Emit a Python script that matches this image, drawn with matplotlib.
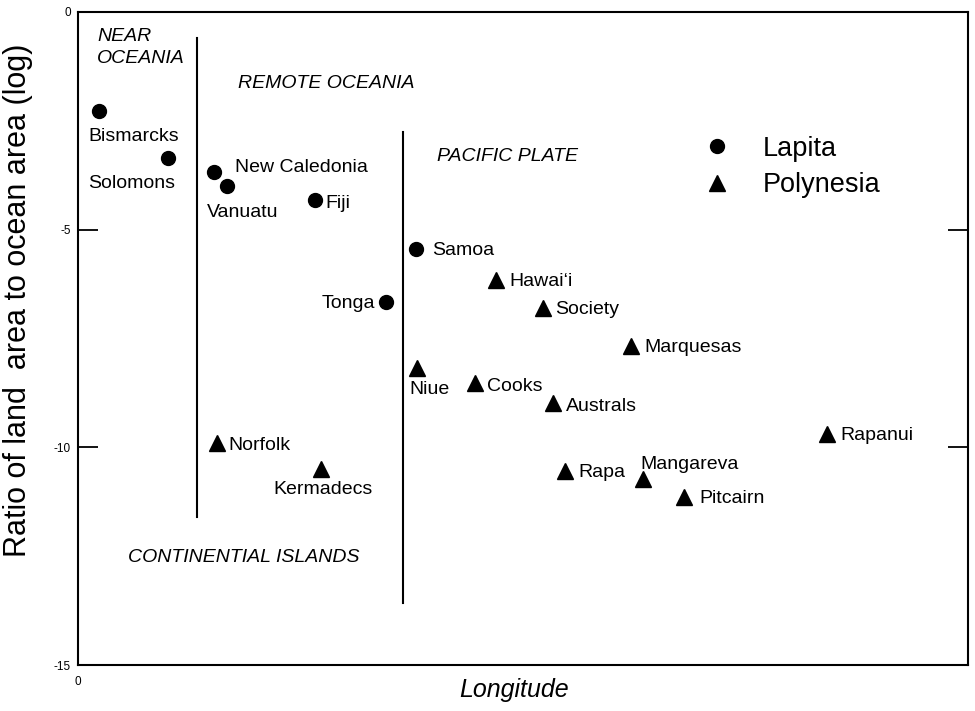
import matplotlib
matplotlib.use("Agg")
import matplotlib.pyplot as plt
from matplotlib.lines import Line2D

plt.rcParams['font.family'] = ['Liberation Sans', 'DejaVu Sans']

# ---- data ----
lapita_names = ["Bismarcks", "Solomons", "New Caledonia", "Vanuatu", "Fiji", "Samoa", "Tonga"]
lapita_x = [2.4, 10.1, 15.3, 16.7, 26.6, 38.0, 34.6]
lapita_y = [-2.27, -3.35, -3.68, -4.00, -4.32, -5.44, -6.66]

poly_names = ["Hawai\u2018i", "Society", "Marquesas", "Niue", "Cooks", "Australs", "Rapanui",
              "Norfolk", "Kermadecs", "Rapa", "Mangareva", "Pitcairn"]
poly_x = [47.0, 52.2, 62.1, 38.1, 44.6, 53.4, 84.2, 15.6, 27.3, 54.7, 63.5, 68.1]
poly_y = [-6.16, -6.80, -7.67, -8.18, -8.52, -8.98, -9.69, -9.90, -10.50, -10.54, -10.73, -11.14]

y_ticks = [0, -5, -10, -15]
y_tick_labels = ["0", "-5", "-10", "-15"]

# ---- label offsets (pixels: dx right, dy down) and alignment ----
lab_off = {
    "Bismarcks": (-11, 26, 'left'),
    "Solomons": (-80, 26, 'left'),
    "New Caledonia": (21, -5, 'left'),
    "Vanuatu": (-20, 26, 'left'),
    "Fiji": (11, 3, 'left'),
    "Samoa": (16, 2, 'left'),
    "Tonga": (-11, 2, 'right'),
    "Hawai\u2018i": (13, 1, 'left'),
    "Society": (13, 1, 'left'),
    "Marquesas": (14, 2, 'left'),
    "Niue": (-8, 21, 'left'),
    "Cooks": (12, 4, 'left'),
    "Australs": (13, 4, 'left'),
    "Rapanui": (13, 2, 'left'),
    "Norfolk": (12, 3, 'left'),
    "Kermadecs": (-48, 20, 'left'),
    "Rapa": (14, 2, 'left'),
    "Mangareva": (-3, -15, 'left'),
    "Pitcairn": (15, 2, 'left'),
}

fig = plt.figure(figsize=(9.75, 7.11), dpi=100)
ax = fig.add_axes([78/975, 1-665/711, 890/975, 653/711])
ax.set_xlim(0, 100)
ax.set_ylim(-15, 0)

ax.plot(lapita_x, lapita_y, 'o', color='black', markersize=10, linestyle='none')
ax.plot(poly_x, poly_y, '^', color='black', markersize=11, linestyle='none')

px2pt = 72/100
for names, xs, ys in ((lapita_names, lapita_x, lapita_y), (poly_names, poly_x, poly_y)):
    for n, x, y in zip(names, xs, ys):
        dx, dy, ha = lab_off[n]
        ax.annotate(n, (x, y), xytext=(dx*px2pt, -dy*px2pt), textcoords='offset points',
                    ha=ha, va='center', fontsize=14)

# divider lines
ax.plot([13.37, 13.37], [-0.60, -11.60], color='black', linewidth=1.5)
ax.plot([36.5, 36.5], [-2.76, -13.58], color='black', linewidth=1.5)

# region labels
ax.text(2.13, -0.82, "NEAR\nOCEANIA", style='italic', fontsize=14, ha='left', va='center', linespacing=1.4)
ax.text(17.98, -1.65, "REMOTE OCEANIA", style='italic', fontsize=14, ha='left', va='center')
ax.text(40.3, -3.33, "PACIFIC PLATE", style='italic', fontsize=14, ha='left', va='center')
ax.text(5.6, -12.52, "CONTINENTIAL ISLANDS", style='italic', fontsize=14, ha='left', va='center')

# axes styling
for s in ax.spines.values():
    s.set_linewidth(1.5)
ax.set_yticks(y_ticks)
ax.set_yticklabels(y_tick_labels)
ax.set_xticks([0])
ax.set_xticklabels(["0"])
ax.tick_params(axis='y', direction='in', length=14.4, width=1.3, labelsize=8.5, pad=5,
               right=True, left=True)
ax.tick_params(axis='x', direction='in', length=0, labelsize=8.5, pad=8)

# legend
handles = [Line2D([], [], marker='o', color='black', linestyle='none', markersize=10, label='Lapita'),
           Line2D([], [], marker='^', color='black', linestyle='none', markersize=11, label='Polynesia')]
ax.legend(handles=handles, loc='center left', bbox_to_anchor=(679/975, 1-167/711),
          bbox_transform=fig.transFigure, frameon=False, fontsize=19.5, handlelength=1.0,
          handletextpad=1.19, labelspacing=0.4, borderpad=0.4)

fig.text(18/975, 1-300/711, "Ratio of land  area to ocean area (log)", rotation=90,
         ha='center', va='center', fontsize=22)
fig.text(514/975, 1-690/711, "Longitude", style='italic', ha='center', va='center', fontsize=18)

fig.savefig("out.png", dpi=100)
